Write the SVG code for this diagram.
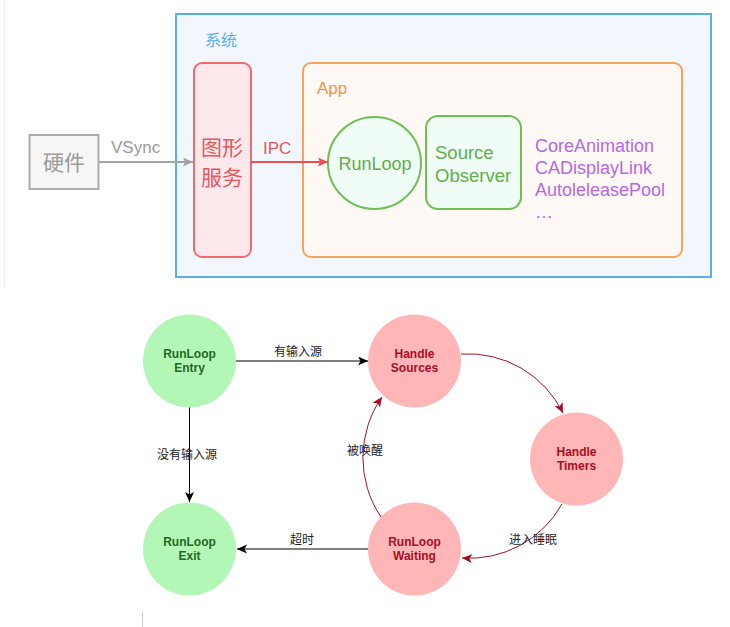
<svg xmlns="http://www.w3.org/2000/svg" width="730" height="627" viewBox="0 0 730 627">
<style>
.t{font-family:"Liberation Sans","Noto Sans CJK SC",sans-serif}
.cjk{font-family:"Noto Sans CJK SC","Liberation Sans",sans-serif}
.nb{font-family:"Liberation Sans","Noto Sans CJK SC",sans-serif;font-weight:bold;font-size:12px;text-anchor:middle}
.g{fill:#b3f7b7}
.r{fill:#ffb6b6}
.gt{fill:#1e6a1e}
.rt{fill:#a50f25}
.lbl{font-family:"Noto Sans CJK SC","Liberation Sans",sans-serif;font-size:12px;fill:#222;text-anchor:middle}
.pl{font-family:"Liberation Sans",sans-serif;font-size:18px;fill:#b468e4}
</style>
<defs>
<marker id="ab" markerUnits="userSpaceOnUse" markerWidth="12" markerHeight="10" refX="10" refY="4.5" orient="auto" viewBox="0 0 12 10"><path d="M0,0 L10,4.5 L0,9 L2.5,4.5 z" fill="#000"/></marker>
<marker id="ar" markerUnits="userSpaceOnUse" markerWidth="12" markerHeight="10" refX="10" refY="4.5" orient="auto" viewBox="0 0 12 10"><path d="M0,0 L10,4.5 L0,9 L2.5,4.5 z" fill="#a50f25"/></marker>
<marker id="ag" markerUnits="userSpaceOnUse" markerWidth="12" markerHeight="10" refX="10" refY="4.5" orient="auto" viewBox="0 0 12 10"><path d="M0,0 L10,4.5 L0,9 L2,4.5 z" fill="#a3a3a3"/></marker>
<marker id="aR" markerUnits="userSpaceOnUse" markerWidth="12" markerHeight="10" refX="10" refY="4.5" orient="auto" viewBox="0 0 12 10"><path d="M0,0 L10,4.5 L0,9 L2,4.5 z" fill="#ea4f57"/></marker>
</defs>
<rect width="730" height="627" fill="#fff"/>
<line x1="4.5" y1="0" x2="4.5" y2="287" stroke="#efefef" stroke-width="1"/>
<line x1="142.5" y1="612" x2="142.5" y2="627" stroke="#cfcfcf" stroke-width="1"/>

<g id="system">
<rect x="176" y="14" width="535" height="263" fill="#f1f7fd" stroke="#5aaeea" stroke-width="2"/>
<text class="cjk" x="205" y="46" font-size="16" fill="#5aaeea">系统</text>
</g>
<g id="hardware">
<rect x="29.5" y="135" width="69" height="54" fill="#f6f6f6" stroke="#ababab" stroke-width="2"/>
<text class="cjk" x="64" y="170" font-size="21" fill="#9a9a9a" text-anchor="middle">硬件</text>
</g>
<g id="graphics">
<rect x="194" y="63" width="57" height="194" rx="8" fill="#fde9ec" stroke="#ee6c6e" stroke-width="2"/>
<text class="cjk" x="222" y="155" font-size="21" fill="#e8575c" text-anchor="middle">图形</text>
<text class="cjk" x="222" y="185" font-size="21" fill="#e8575c" text-anchor="middle">服务</text>
</g>
<g id="app">
<rect x="303" y="63" width="379" height="194" rx="8" fill="#fff9f6" stroke="#f5a361" stroke-width="2"/>
<text class="t" x="317" y="94" font-size="17" fill="#f39649">App</text>
</g>
<g id="runloop">
<ellipse cx="374.5" cy="163" rx="46.5" ry="46" fill="#effdf6" stroke="#6cc054" stroke-width="2"/>
<text class="t" x="375" y="170" font-size="18" fill="#5fae4a" text-anchor="middle">RunLoop</text>
</g>
<g id="sourceobserver">
<rect x="426" y="116" width="95" height="93" rx="12" fill="#effdf6" stroke="#6cc054" stroke-width="2"/>
<text class="t" x="435" y="159" font-size="18.5" fill="#5fae4a">Source</text>
<text class="t" x="435" y="182" font-size="18.5" fill="#5fae4a">Observer</text>
</g>
<g id="others">
<text class="pl" x="535" y="152">CoreAnimation</text>
<text class="pl" x="535" y="174">CADisplayLink</text>
<text class="pl" x="535" y="196">AutoleleasePool</text>
<text class="pl" x="535" y="218">…</text>
</g>

<g id="connectors-top">
<line x1="99" y1="162" x2="193" y2="162" stroke="#a3a3a3" stroke-width="2" marker-end="url(#ag)"/>
<text class="t" x="111" y="153" font-size="17" fill="#9a9a9a">VSync</text>
<line x1="251" y1="162" x2="328" y2="162" stroke="#ea4f57" stroke-width="2" marker-end="url(#aR)"/>
<text class="t" x="263" y="154" font-size="17" fill="#e8575c">IPC</text>
</g>

<g id="entry">
<circle cx="189.5" cy="361" r="46.5" class="g"/>
<text class="nb gt" x="189.5" y="358">RunLoop</text>
<text class="nb gt" x="189.5" y="372">Entry</text>
</g>
<g id="sources">
<circle cx="414.5" cy="361" r="46.5" class="r"/>
<text class="nb rt" x="414.5" y="358">Handle</text>
<text class="nb rt" x="414.5" y="372">Sources</text>
</g>
<g id="timers">
<circle cx="576.5" cy="459" r="46.5" class="r"/>
<text class="nb rt" x="576.5" y="456">Handle</text>
<text class="nb rt" x="576.5" y="470">Timers</text>
</g>
<g id="waiting">
<circle cx="414.5" cy="549" r="46.5" class="r"/>
<text class="nb rt" x="414.5" y="546">RunLoop</text>
<text class="nb rt" x="414.5" y="560">Waiting</text>
</g>
<g id="exit">
<circle cx="189.5" cy="549" r="46.5" class="g"/>
<text class="nb gt" x="189.5" y="546">RunLoop</text>
<text class="nb gt" x="189.5" y="560">Exit</text>
</g>

<g id="connectors" fill="none">
<path d="M236,361 L368,361" stroke="#000" stroke-width="1" marker-end="url(#ab)"/>
<path d="M189.5,407.5 L189.5,502" stroke="#000" stroke-width="1" marker-end="url(#ab)"/>
<path d="M368,549 L237,549" stroke="#000" stroke-width="1" marker-end="url(#ab)"/>
<path d="M461,354 A106,106 0 0 1 563,413" stroke="#a50f25" stroke-width="1" marker-end="url(#ar)"/>
<path d="M562,504 A106,106 0 0 1 462,558" stroke="#a50f25" stroke-width="1" marker-end="url(#ar)"/>
<path d="M381,517 A106,106 0 0 1 382,397" stroke="#a50f25" stroke-width="1" marker-end="url(#ar)"/>
</g>
<g id="labels">
<text class="lbl" x="298" y="356">有输入源</text>
<text class="lbl" x="187" y="459">没有输入源</text>
<text class="lbl" x="302" y="544">超时</text>
<text class="lbl" x="365" y="455">被唤醒</text>
<text class="lbl" x="533" y="544">进入睡眠</text>
</g>
</svg>
